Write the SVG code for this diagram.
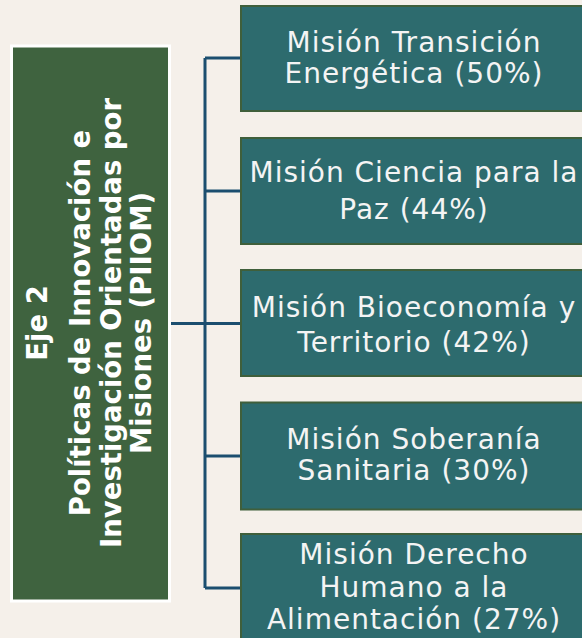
<svg xmlns="http://www.w3.org/2000/svg" width="582" height="638" viewBox="0 0 582 638">
<style>
.bg{fill:#f5f0ea}
.axis{fill:#3f633f;stroke:#ffffff;stroke-width:3}
.mis{fill:#2d6b6e;stroke:#3f5f3b;stroke-width:2}
.conn{stroke:#1b4e6f;stroke-width:3;fill:none}
.t{font-family:"DejaVu Sans",Verdana,sans-serif;fill:#f4f4f4;font-size:28px;letter-spacing:1px;text-anchor:middle}
.ax{font-family:"DejaVu Sans",Verdana,sans-serif;fill:#ffffff;font-size:27.5px;font-weight:bold;text-anchor:middle}
</style>
<rect class="bg" x="0" y="0" width="582" height="638"/>
<g id="connectors">
<path class="conn" d="M171 323.5H205M205 58V588M205 58H240M205 191H240M205 323.5H240M205 456H240M205 588H240"/>
</g>
<g id="eje2">
<rect class="axis" x="11.5" y="46" width="158" height="555"/>
<g transform="rotate(-90)">
<text class="ax" x="-323" y="47">Eje 2</text>
<text class="ax" x="-323" y="90">Políticas de Innovación e</text>
<text class="ax" x="-323" y="121">Investigación Orientadas por</text>
<text class="ax" x="-323" y="151">Misiones (PIIOM)</text>
</g>
</g>
<g id="m1">
<rect class="mis" x="241" y="6" width="346" height="105"/>
<text class="t" x="414" y="51.5">Misión Transición</text>
<text class="t" x="414" y="83">Energética (50%)</text>
</g>
<g id="m2">
<rect class="mis" x="241" y="138" width="346" height="106"/>
<text class="t" x="414" y="182">Misión Ciencia para la</text>
<text class="t" x="414" y="219">Paz (44%)</text>
</g>
<g id="m3">
<rect class="mis" x="241" y="270" width="346" height="106"/>
<text class="t" x="414" y="316.5">Misión Bioeconomía y</text>
<text class="t" x="414" y="352">Territorio (42%)</text>
</g>
<g id="m4">
<rect class="mis" x="241" y="402.5" width="346" height="107"/>
<text class="t" x="414" y="448.5">Misión Soberanía</text>
<text class="t" x="414" y="480">Sanitaria (30%)</text>
</g>
<g id="m5">
<rect class="mis" x="241" y="534" width="346" height="112"/>
<text class="t" x="414" y="564">Misión Derecho</text>
<text class="t" x="414" y="597">Humano a la</text>
<text class="t" x="414" y="629">Alimentación (27%)</text>
</g>
</svg>
